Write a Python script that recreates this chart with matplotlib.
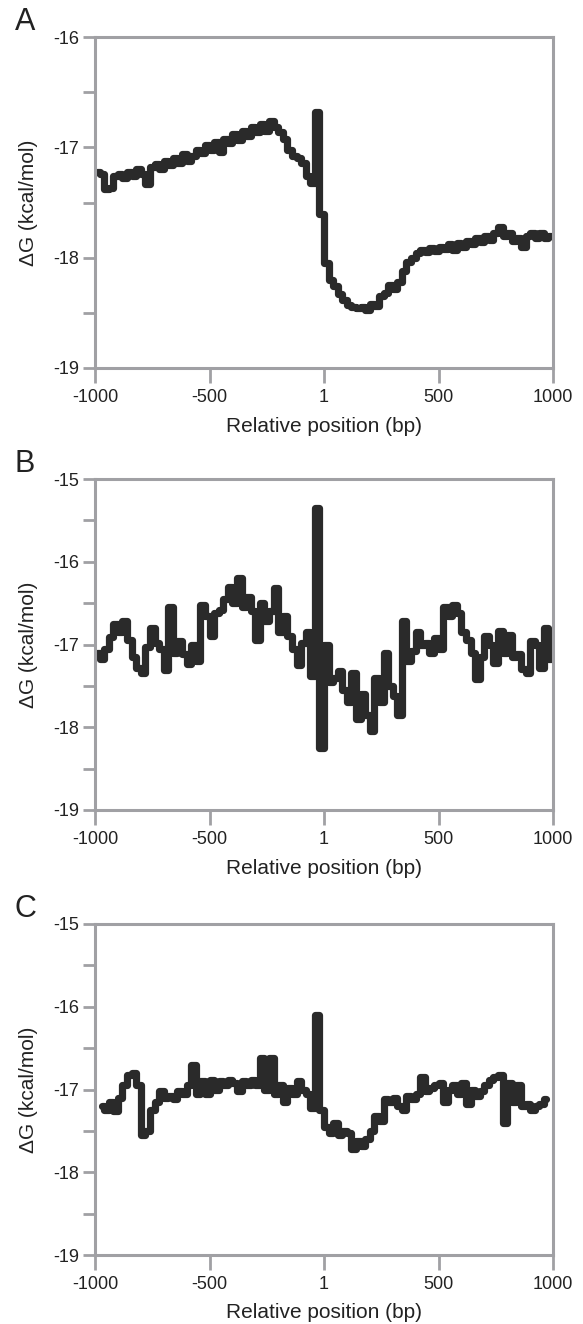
import matplotlib
matplotlib.use("Agg")
import matplotlib.pyplot as plt
from matplotlib.ticker import FixedLocator

plt.rcParams['font.family'] = ['Liberation Sans', 'DejaVu Sans']

# ---- data -------------------------------------------------------------
positions_ab = list(range(-990, 1000, 20))   # bin centres (bp), 100 bins
positions_c = list(range(-970, 980, 20))     # bin centres (bp), 98 bins

dG_A = [
    -17.22, -17.24, -17.38, -17.37, -17.26, -17.24, -17.28, -17.22, -17.26, -17.20,
    -17.24, -17.33, -17.18, -17.15, -17.20, -17.12, -17.16, -17.10, -17.14, -17.06,
    -17.12, -17.08, -17.02, -17.05, -16.98, -17.02, -16.95, -17.04, -16.92, -16.96,
    -16.88, -16.93, -16.85, -16.90, -16.82, -16.86, -16.79, -16.85, -16.76, -16.82,
    -16.86, -16.92, -17.02, -17.08, -17.10, -17.14, -17.26, -17.32, -16.68, -17.60,
    -18.05, -18.20, -18.26, -18.33, -18.38, -18.43, -18.45, -18.46, -18.45, -18.47,
    -18.42, -18.44, -18.35, -18.32, -18.25, -18.28, -18.22, -18.12, -18.04, -18.00,
    -17.96, -17.93, -17.95, -17.91, -17.94, -17.90, -17.92, -17.88, -17.93, -17.87,
    -17.90, -17.85, -17.88, -17.82, -17.86, -17.80, -17.84, -17.78, -17.72, -17.80,
    -17.78, -17.85, -17.82, -17.90, -17.80, -17.78, -17.82, -17.78, -17.82, -17.80,
]

dG_B = [
    -17.10, -17.18, -17.05, -16.91, -16.75, -16.85, -16.72, -16.95, -17.15, -17.28,
    -17.35, -17.03, -16.80, -16.98, -17.05, -17.31, -16.55, -17.10, -16.96, -17.12,
    -17.23, -17.00, -17.20, -16.52, -16.65, -16.90, -16.62, -16.58, -16.45, -16.30,
    -16.50, -16.20, -16.55, -16.42, -16.60, -16.95, -16.50, -16.72, -16.60, -16.32,
    -16.85, -16.65, -16.90, -17.05, -17.25, -16.98, -16.85, -17.38, -15.35, -18.25,
    -17.00, -17.45, -17.40, -17.32, -17.55, -17.70, -17.35, -17.90, -17.60, -17.85,
    -18.05, -17.40, -17.70, -17.10, -17.50, -17.62, -17.85, -16.72, -17.20, -17.08,
    -16.85, -17.00, -16.98, -17.10, -16.92, -17.05, -16.55, -16.65, -16.52, -16.62,
    -16.85, -16.95, -17.10, -17.42, -17.15, -16.90, -17.00, -17.22, -16.84, -17.10,
    -16.88, -17.15, -17.12, -17.30, -17.35, -16.96, -17.00, -17.28, -16.80, -17.18,
]

dG_C = [
    -17.20, -17.25, -17.15, -17.26, -17.10, -16.95, -16.82, -16.80, -16.95, -17.55,
    -17.50, -17.25, -17.15, -17.02, -17.10, -17.08, -17.12, -17.02, -17.05, -16.95,
    -16.70, -17.05, -16.90, -17.05, -16.88, -17.00, -16.90, -16.95, -16.88, -16.92,
    -17.02, -16.90, -16.95, -16.88, -16.95, -16.62, -17.00, -16.62, -17.05, -16.95,
    -17.15, -16.98, -17.05, -16.90, -17.00, -17.05, -17.22, -16.10, -17.25, -17.45,
    -17.52, -17.40, -17.55, -17.50, -17.52, -17.72, -17.62, -17.68, -17.60, -17.50,
    -17.32, -17.38, -17.12, -17.15, -17.10, -17.20, -17.25, -17.08, -17.12, -17.05,
    -16.85, -17.02, -16.98, -16.95, -16.92, -17.15, -17.00, -16.95, -17.05, -16.92,
    -17.18, -17.00, -17.08, -17.02, -16.95, -16.88, -16.85, -16.82, -17.40, -16.92,
    -17.15, -16.95, -17.20, -17.18, -17.25, -17.20, -17.18, -17.12,
]

x_ticks = [-1000, -500, 0, 500, 1000]
x_ticklabels = ["-1000", "-500", "1", "500", "1000"]
panel_letters = ["A", "B", "C"]
y_tops = [-16, -15, -15]
y_bottom = -19

# ---- style --------------------------------------------------------------
spine_col = "#a0a0a4"
line_col = "#2a2a2a"
text_col = "#222222"

W, H = 583, 1324
fig = plt.figure(figsize=(W / 100, H / 100), dpi=100)

ax_left_px, ax_right_px = 95, 553
ax_tops_px = [37, 479, 924]
ax_h_px = 331

series = [(positions_ab, dG_A), (positions_ab, dG_B), (positions_c, dG_C)]

for i, ((xs, ys), letter, ytop, top_px) in enumerate(zip(series, panel_letters, y_tops, ax_tops_px)):
    rect = [ax_left_px / W, 1 - (top_px + ax_h_px) / H,
            (ax_right_px - ax_left_px) / W, ax_h_px / H]
    ax = fig.add_axes(rect)
    ax.plot(xs, ys, color=line_col, lw=5.2, drawstyle="steps-mid",
            solid_joinstyle="round", solid_capstyle="round")
    ax.set_xlim(-1000, 1000)
    ax.set_ylim(y_bottom, ytop)

    for s in ax.spines.values():
        s.set_color(spine_col)
        s.set_linewidth(2.2)

    ax.set_xticks(x_ticks)
    ax.set_xticklabels(x_ticklabels)
    major_y = list(range(y_bottom, ytop + 1))
    ax.yaxis.set_major_locator(FixedLocator(major_y))
    ax.set_yticklabels([str(v) for v in major_y])
    ax.yaxis.set_minor_locator(FixedLocator([v + 0.5 for v in major_y[:-1]]))

    ax.tick_params(axis="x", which="major", direction="out", length=11,
                   width=2.0, color=spine_col, labelsize=13, labelcolor=text_col, pad=4)
    ax.tick_params(axis="y", which="both", direction="out", length=8.5,
                   width=2.0, color=spine_col, labelsize=13, labelcolor=text_col, pad=3)

    ax.set_xlabel("Relative position (bp)", fontsize=15, color=text_col, va="center")
    ax.xaxis.set_label_coords(0.5, -58 / ax_h_px)
    ax.set_ylabel("\u0394G (kcal/mol)", fontsize=15, color=text_col, va="center")
    ax.yaxis.set_label_coords((28 - ax_left_px) / (ax_right_px - ax_left_px), 0.5)

    fig.text(25 / W, 1 - (top_px - 15) / H, letter, fontsize=22,
             color=text_col, ha="center", va="center")

fig.savefig("out.png", dpi=100, facecolor="white")
